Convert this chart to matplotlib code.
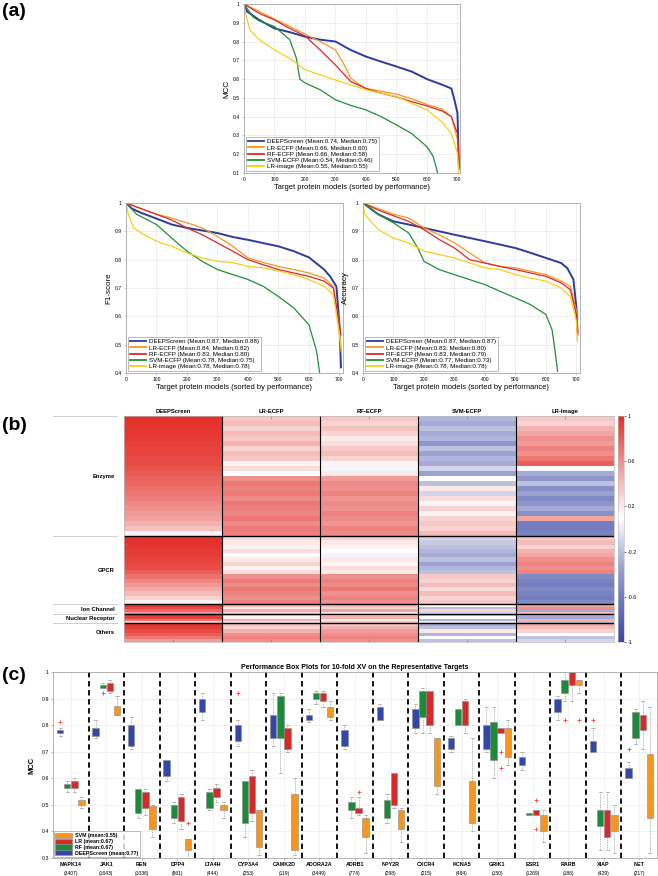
import numpy as np
import matplotlib
matplotlib.use("Agg")
import matplotlib.pyplot as plt
from matplotlib.colors import LinearSegmentedColormap
from matplotlib.patches import Patch
from matplotlib.transforms import blended_transform_factory

plt.rcParams['font.family'] = ['Liberation Sans', 'DejaVu Sans']

W, H = 658, 876

# ---------------- (a) sorted performance curves ----------------
methods = ['DEEPScreen', 'LR-ECFP', 'RF-ECFP', 'SVM-ECFP', 'LR-image']
line_colors = ['#2c3c9c', '#f7961e', '#e0262c', '#1f9134', '#f8cf1a']

mcc_curves = {
    'DEEPScreen': ([0, 10, 50, 100, 150, 200, 250, 300, 350, 400, 450, 500, 550, 600, 650, 680, 690, 700, 705],
                   [1.0, 0.96, 0.915, 0.87, 0.85, 0.826, 0.81, 0.80, 0.755, 0.72, 0.693, 0.667, 0.64, 0.60, 0.57, 0.55, 0.49, 0.42, 0.13]),
    'LR-ECFP': ([0, 50, 100, 150, 200, 250, 300, 326, 350, 370, 400, 450, 500, 550, 600, 650, 680, 700, 705],
                [1.0, 0.96, 0.92, 0.88, 0.84, 0.80, 0.755, 0.685, 0.605, 0.58, 0.55, 0.535, 0.52, 0.495, 0.465, 0.44, 0.40, 0.28, 0.12]),
    'RF-ECFP': ([0, 50, 100, 150, 200, 250, 300, 350, 400, 450, 500, 550, 600, 650, 680, 700, 705],
                [1.0, 0.95, 0.915, 0.87, 0.83, 0.755, 0.675, 0.587, 0.55, 0.525, 0.505, 0.48, 0.457, 0.43, 0.40, 0.31, 0.12]),
    'SVM-ECFP': ([0, 30, 50, 100, 150, 172, 183, 200, 250, 300, 350, 400, 450, 500, 550, 600, 620, 630, 635],
                 [1.0, 0.93, 0.91, 0.88, 0.81, 0.71, 0.60, 0.58, 0.543, 0.49, 0.46, 0.436, 0.40, 0.356, 0.31, 0.24, 0.19, 0.13, 0.10]),
    'LR-image': ([0, 5, 20, 50, 100, 150, 200, 300, 400, 500, 600, 650, 680, 700, 705],
                 [1.0, 0.95, 0.86, 0.81, 0.755, 0.71, 0.65, 0.595, 0.543, 0.507, 0.436, 0.37, 0.31, 0.205, 0.10]),
}
f1_curves = {
    'DEEPScreen': ([0, 20, 50, 100, 150, 200, 300, 350, 400, 500, 550, 600, 650, 670, 690, 700, 705],
                   [1.0, 0.98, 0.965, 0.945, 0.924, 0.912, 0.894, 0.88, 0.87, 0.847, 0.83, 0.808, 0.765, 0.74, 0.705, 0.57, 0.42]),
    'LR-ECFP': ([0, 50, 100, 150, 200, 250, 300, 350, 400, 450, 500, 550, 600, 650, 680, 700, 705],
                [1.0, 0.98, 0.96, 0.947, 0.93, 0.912, 0.882, 0.847, 0.806, 0.79, 0.776, 0.765, 0.753, 0.735, 0.705, 0.57, 0.477]),
    'RF-ECFP': ([0, 50, 100, 150, 200, 250, 300, 350, 400, 450, 500, 550, 600, 650, 680, 700, 705],
                [1.0, 0.98, 0.96, 0.94, 0.912, 0.888, 0.859, 0.83, 0.80, 0.782, 0.765, 0.753, 0.741, 0.724, 0.70, 0.57, 0.535]),
    'SVM-ECFP': ([0, 35, 100, 150, 200, 250, 300, 400, 450, 500, 550, 600, 625, 635],
                 [1.0, 0.96, 0.924, 0.876, 0.83, 0.794, 0.765, 0.73, 0.706, 0.67, 0.63, 0.57, 0.477, 0.40]),
    'LR-image': ([0, 8, 25, 50, 100, 150, 200, 250, 300, 350, 400, 450, 500, 550, 600, 650, 680, 700, 705],
                 [1.0, 0.96, 0.912, 0.894, 0.865, 0.847, 0.824, 0.806, 0.794, 0.79, 0.776, 0.771, 0.76, 0.747, 0.73, 0.706, 0.676, 0.535, 0.488]),
}
acc_curves = {
    'DEEPScreen': ([0, 50, 100, 150, 200, 300, 400, 450, 500, 550, 600, 650, 670, 690, 700, 703],
                   [1.0, 0.96, 0.935, 0.924, 0.912, 0.888, 0.865, 0.853, 0.841, 0.824, 0.806, 0.788, 0.77, 0.73, 0.63, 0.547]),
    'LR-ECFP': ([0, 50, 100, 150, 200, 250, 300, 350, 400, 450, 500, 550, 600, 650, 680, 700, 703],
                [1.0, 0.98, 0.96, 0.947, 0.912, 0.888, 0.859, 0.824, 0.788, 0.776, 0.771, 0.759, 0.747, 0.724, 0.706, 0.62, 0.547]),
    'RF-ECFP': ([0, 50, 100, 150, 200, 250, 300, 350, 400, 450, 500, 550, 600, 650, 680, 700, 705],
                [1.0, 0.975, 0.955, 0.935, 0.906, 0.871, 0.841, 0.80, 0.788, 0.776, 0.765, 0.753, 0.741, 0.718, 0.694, 0.606, 0.535]),
    'SVM-ECFP': ([0, 50, 100, 150, 180, 200, 250, 300, 400, 450, 500, 550, 600, 620, 630, 638],
                 [1.0, 0.96, 0.93, 0.894, 0.841, 0.794, 0.765, 0.747, 0.712, 0.688, 0.665, 0.641, 0.606, 0.553, 0.476, 0.406]),
    'LR-image': ([0, 5, 50, 100, 150, 200, 250, 300, 400, 450, 500, 550, 600, 650, 680, 700, 703],
                 [1.0, 0.96, 0.906, 0.876, 0.859, 0.83, 0.818, 0.806, 0.771, 0.765, 0.747, 0.735, 0.724, 0.70, 0.67, 0.582, 0.512]),
}
mcc_mean = [0.74, 0.66, 0.66, 0.54, 0.55]
mcc_median = [0.75, 0.60, 0.58, 0.46, 0.55]
f1_mean = [0.87, 0.84, 0.83, 0.78, 0.78]
f1_median = [0.88, 0.82, 0.80, 0.75, 0.78]
acc_mean = [0.87, 0.83, 0.83, 0.77, 0.78]
acc_median = [0.87, 0.80, 0.79, 0.73, 0.78]

# ---------------- (b) heatmap bands per protein family ----------------
hm_columns = ['DEEPScreen', 'LR-ECFP', 'RF-ECFP', 'SVM-ECFP', 'LR-Image']
groups = ['Enzyme', 'GPCR', 'Ion Channel', 'Nuclear Receptor', 'Others']
group_rows = [374, 212, 31, 28, 59]

enzyme_vals = [
    [0.98, 0.97, 0.96, 0.95, 0.94, 0.92, 0.91, 0.9, 0.88, 0.87, 0.84, 0.81, 0.78, 0.76, 0.73, 0.7, 0.67, 0.63, 0.6, 0.56, 0.52, 0.46, 0.38, 0.15],
    [0.35, 0.4, 0.3, 0.42, 0.35, 0.45, 0.3, 0.4, 0.35, 0.15, 0.25, 0.1, 0.6, 0.7, 0.65, 0.68, 0.62, 0.7, 0.66, 0.64, 0.7, 0.62, 0.68, 0.66],
    [0.35, 0.3, 0.38, 0.3, 0.2, 0.25, 0.35, 0.4, 0.3, 0.15, 0.05, 0.2, 0.55, 0.62, 0.6, 0.65, 0.58, 0.62, 0.6, 0.65, 0.62, 0.58, 0.65, 0.62],
    [-0.25, -0.3, -0.2, -0.3, -0.25, -0.4, -0.2, -0.35, -0.25, -0.3, -0.1, -0.35, 0.1, -0.2, 0.2, -0.1, 0.25, 0.05, 0.3, 0.15, 0.3, 0.35, 0.3, 0.4],
    [0.35, 0.3, 0.45, 0.5, 0.6, 0.55, 0.65, 0.6, 0.7, 0.8, 0.1, -0.3, -0.4, -0.2, -0.45, -0.35, -0.5, -0.4, -0.3, -0.45, 0.5, -0.6, -0.6, -0.55],
]
gpcr_vals = [
    [0.98, 0.97, 0.96, 0.94, 0.93, 0.91, 0.89, 0.87, 0.8, 0.72, 0.64, 0.56, 0.48, 0.4, 0.3, 0.15],
    [0.25, 0.2, 0.15, 0.25, 0.1, 0.2, 0.3, 0.15, 0.25, 0.6, 0.68, 0.62, 0.7, 0.65, 0.6, 0.66],
    [0.3, 0.2, 0.15, 0.1, 0.05, 0.2, 0.15, 0.25, 0.2, 0.6, 0.65, 0.62, 0.7, 0.6, 0.65, 0.6],
    [-0.1, -0.15, -0.2, -0.25, -0.3, -0.2, -0.35, -0.25, -0.2, 0.35, 0.3, 0.4, 0.25, 0.4, 0.3, 0.35],
    [0.35, 0.4, 0.3, 0.45, 0.5, 0.6, 0.65, 0.6, 0.65, -0.5, -0.55, -0.6, -0.5, -0.55, -0.6, -0.5],
]
ion_vals = [
    [0.95, 0.9, 0.75, 0.55],
    [0.4, 0.2, 0.45, 0.3],
    [0.4, 0.3, 0.5, 0.2],
    [0.1, -0.2, 0.3, -0.1],
    [0.5, 0.6, -0.3, 0.4],
]
nr_vals = [
    [0.97, 0.92, 0.7, 0.3],
    [0.3, 0.15, 0.45, 0.2],
    [0.3, 0.45, 0.2, 0.35],
    [-0.2, 0.1, -0.25, 0.2],
    [0.5, -0.3, 0.45, -0.2],
]
others_vals = [
    [0.97, 0.93, 0.88, 0.8, 0.7, 0.55],
    [0.4, 0.3, 0.45, 0.6, 0.65, 0.6],
    [0.35, 0.45, 0.55, 0.6, 0.65, 0.6],
    [-0.3, -0.2, 0.2, -0.25, 0.1, -0.2],
    [0.5, 0.4, 0.3, 0.1, -0.2, -0.1],
]
group_vals = [enzyme_vals, gpcr_vals, ion_vals, nr_vals, others_vals]

# ---------------- (c) box plot summaries ----------------
targets = ['MAPK14', 'JAK1', 'REN', 'DPP4', 'LTA4H', 'CYP3A4', 'CAMK2D', 'ADORA2A', 'ADRB1',
           'NPY2R', 'CXCR4', 'KCNA5', 'GRIK1', 'ESR1', 'RARB', 'XIAP', 'NET']
target_counts = [3407, 1643, 1036, 861, 444, 253, 119, 3449, 774, 298, 215, 484, 150, 1269, 186, 429, 217]

deep_lo = [0.76, 0.75, 0.71, 0.59, 0.82, 0.72, 0.72, 0.81, 0.71, 0.82, 0.77, 0.70, 0.70, 0.63, 0.82, 0.70, 0.60]
deep_q1 = [0.77, 0.76, 0.72, 0.61, 0.85, 0.74, 0.75, 0.82, 0.72, 0.82, 0.79, 0.71, 0.71, 0.65, 0.85, 0.70, 0.60]
deep_q3 = [0.78, 0.79, 0.80, 0.67, 0.90, 0.80, 0.84, 0.84, 0.78, 0.87, 0.86, 0.75, 0.80, 0.68, 0.90, 0.74, 0.64]
deep_hi = [0.79, 0.82, 0.83, 0.67, 0.92, 0.82, 0.92, 0.86, 0.80, 0.88, 0.88, 0.76, 0.87, 0.70, 0.91, 0.79, 0.66]
deep_out = {0: [0.81], 5: [0.92], 15: [0.82], 16: [0.71]}

rf_lo = [0.55, 0.94, 0.45, 0.43, 0.48, 0.38, 0.62, 0.88, 0.45, 0.43, 0.77, 0.80, 0.60, 0.46, 0.89, 0.33, 0.73]
rf_q1 = [0.563, 0.94, 0.47, 0.45, 0.49, 0.43, 0.75, 0.90, 0.48, 0.45, 0.83, 0.80, 0.67, 0.46, 0.92, 0.42, 0.75]
rf_q3 = [0.58, 0.95, 0.56, 0.50, 0.55, 0.59, 0.91, 0.92, 0.51, 0.52, 0.93, 0.86, 0.81, 0.47, 0.97, 0.48, 0.85]
rf_hi = [0.59, 0.96, 0.56, 0.51, 0.56, 0.59, 0.92, 0.93, 0.53, 0.54, 0.94, 0.86, 0.87, 0.47, 1.0, 0.55, 0.86]
rf_out = {1: [0.92], 14: [0.82]}

lr_lo = [0.55, 0.92, 0.46, 0.41, 0.51, 0.44, 0.70, 0.87, 0.46, 0.49, 0.77, 0.77, 0.77, 0.46, 0.89, 0.33, 0.71]
lr_q1 = [0.563, 0.93, 0.49, 0.44, 0.53, 0.47, 0.71, 0.89, 0.47, 0.50, 0.80, 0.80, 0.77, 0.46, 0.95, 0.38, 0.78]
lr_q3 = [0.59, 0.96, 0.55, 0.53, 0.5625, 0.61, 0.79, 0.92, 0.49, 0.62, 0.93, 0.89, 0.79, 0.48, 1.0, 0.48, 0.84]
lr_hi = [0.60, 0.97, 0.56, 0.54, 0.58, 0.63, 0.80, 0.93, 0.53, 0.62, 0.93, 0.90, 0.79, 0.48, 1.0, 0.55, 0.89]
lr_out = {8: [0.55], 12: [0.70, 0.64], 13: [0.52, 0.41]}

svm_lo = [0.49, 0.84, 0.38, 0.30, 0.45, 0.31, 0.31, 0.82, 0.32, 0.36, 0.54, 0.40, 0.65, 0.36, 0.92, 0.32, 0.32]
svm_q1 = [0.50, 0.84, 0.41, 0.33, 0.48, 0.34, 0.33, 0.83, 0.38, 0.41, 0.57, 0.43, 0.68, 0.40, 0.95, 0.40, 0.45]
svm_q3 = [0.519, 0.871, 0.4975, 0.37, 0.50, 0.48, 0.54, 0.869, 0.45, 0.48, 0.75, 0.59, 0.79, 0.46, 0.97, 0.46, 0.69]
svm_hi = [0.53, 0.91, 0.50, 0.37, 0.51, 0.48, 0.60, 0.89, 0.46, 0.49, 0.75, 0.75, 0.82, 0.48, 0.97, 0.50, 0.87]
svm_out = {3: [0.43], 14: [0.82]}

box_names = ['DEEPScreen', 'RF', 'LR', 'SVM']
box_means = [0.77, 0.67, 0.67, 0.55]
box_colors = ['#3446a8', '#1b8a3a', '#d52a2a', '#f7961e']
box_sets = [(deep_lo, deep_q1, deep_q3, deep_hi, deep_out),
            (rf_lo, rf_q1, rf_q3, rf_hi, rf_out),
            (lr_lo, lr_q1, lr_q3, lr_hi, lr_out),
            (svm_lo, svm_q1, svm_q3, svm_hi, svm_out)]


def px_axes(fig, l, t, r, b):
    return fig.add_axes([l / W, 1 - b / H, (r - l) / W, (b - t) / H])


def style_axes(ax):
    for s in ax.spines.values():
        s.set_color('#a8a8a8')
        s.set_linewidth(0.6)
    ax.tick_params(labelsize=3.6, length=1.5, width=0.4, color='#a8a8a8', pad=1.5)
    ax.grid(True, color='#e4e4e4', lw=0.4)
    ax.set_axisbelow(True)


def curve_panel(ax, curves, means, medians, ylo, ylabel):
    for i, name in enumerate(methods):
        x, y = curves[name]
        lab = f'{name} (Mean:{means[i]:.2f}, Median:{medians[i]:.2f})'
        ax.plot(x, y, color=line_colors[i], lw=1.4 if i == 0 else 0.9, label=lab)
    ax.set_xlim(0, 710)
    ax.set_ylim(ylo, 1)
    ax.set_xticks(range(0, 701, 100))
    yt = np.round(np.arange(ylo, 1.0001, 0.1), 1)
    ax.set_yticks(yt)
    ax.set_yticklabels([f'{v:g}' for v in yt])
    style_axes(ax)
    ax.set_xlabel('Target protein models (sorted by performance)', fontsize=5.4, labelpad=1.5)
    ax.set_ylabel(ylabel, fontsize=5.8, labelpad=2)
    leg = ax.legend(loc='lower left', fontsize=4.5, handlelength=2.6, labelspacing=0.12,
                    borderpad=0.3, borderaxespad=0.35, fancybox=False, handletextpad=0.4)
    leg.get_frame().set_edgecolor('#888888')
    leg.get_frame().set_linewidth(0.5)
    for h in leg.get_lines():
        h.set_linewidth(1.3)


fig = plt.figure(figsize=(W / 100, H / 100), dpi=100)

# (a)
ax1 = px_axes(fig, 244, 4, 460.5, 173)
curve_panel(ax1, mcc_curves, mcc_mean, mcc_median, 0.1, 'MCC')
ax2 = px_axes(fig, 126, 203, 342.5, 373)
curve_panel(ax2, f1_curves, f1_mean, f1_median, 0.4, 'F1-score')
ax3 = px_axes(fig, 363, 203, 579.5, 373)
curve_panel(ax3, acc_curves, acc_mean, acc_median, 0.4, 'Accuracy')

# (b)
cmap = LinearSegmentedColormap.from_list('bwr_m', [(0.0, '#3a49a4'), (0.3, '#8f97cc'), (0.55, '#ffffff'),
                                                    (0.78, '#f09a97'), (1.0, '#e52c26')])
axh = px_axes(fig, 124, 416, 614, 642)
row_start = np.concatenate([[0], np.cumsum(group_rows)])
for g, vals in enumerate(group_vals):
    arr = np.array(vals).T
    nb = arr.shape[0]
    yedges = np.linspace(row_start[g], row_start[g + 1], nb + 1)
    mesh = axh.pcolormesh(np.arange(6), yedges, arr, cmap=cmap, vmin=-1, vmax=1, shading='flat')
axh.set_xlim(0, 5)
axh.set_ylim(row_start[-1], 0)
for xc in range(1, 5):
    axh.axvline(xc, color='black', lw=0.8)
for yb in row_start[1:-1]:
    axh.axhline(yb, color='black', lw=1.0)
axh.set_xticks(np.arange(5) + 0.5)
axh.set_xticklabels([])
axh.tick_params(axis='x', top=True, bottom=True, direction='in', length=2.5, width=0.4, color='#777777')
axh.set_yticks(np.arange(100, 700, 100))
axh.set_yticklabels([])
axh.tick_params(axis='y', direction='in', length=1.5, width=0.4, color='#999999', right=True)
for s in axh.spines.values():
    s.set_color('#bbbbbb')
    s.set_linewidth(0.5)
for i, c in enumerate(hm_columns):
    axh.text(i + 0.5, -5, c, ha='center', va='bottom', fontsize=4.2, fontweight='bold')
trans = blended_transform_factory(fig.transFigure, axh.transData)
for yb in row_start[:-1]:
    fig.add_artist(plt.Line2D([53 / W, 117 / W], [yb, yb], transform=trans, color='#c8c8c8', lw=0.6))
for g, name in enumerate(groups):
    yc = (row_start[g] + row_start[g + 1]) / 2
    fig.text(115 / W, 0, name, transform=trans, ha='right', va='center', fontsize=4.2, fontweight='bold')
    fig.texts[-1].set_y(yc)

cax = px_axes(fig, 618, 416, 624, 642)
cb = fig.colorbar(mesh, cax=cax, ticks=[-1, -0.6, -0.2, 0.2, 0.6, 1])
cb.ax.set_yticklabels(['-1', '-0.6', '-0.2', '0.2', '0.6', '1'])
cb.ax.tick_params(labelsize=3.8, length=1.5, width=0.4, pad=1)
cb.outline.set_edgecolor('#bbbbbb')
cb.outline.set_linewidth(0.4)

# (c)
axc = px_axes(fig, 53, 672, 657, 858)
pos = np.arange(1, len(targets) + 1)
offsets = [-0.3, -0.1, 0.1, 0.3]
for k, (lo, q1, q3, hi, out) in enumerate(box_sets):
    stats = []
    for i in range(len(targets)):
        stats.append(dict(med=q1[i], q1=q1[i], q3=q3[i], whislo=lo[i], whishi=hi[i],
                          fliers=out.get(i, [])))
    axc.bxp(stats, positions=pos + offsets[k], widths=0.18, patch_artist=True, manage_ticks=False,
            boxprops=dict(facecolor=box_colors[k], edgecolor='#8a8a8a', linewidth=0.4),
            whiskerprops=dict(color='#9a9a9a', linestyle=(0, (2, 1.5)), linewidth=0.5),
            capprops=dict(color='#9a9a9a', linewidth=0.5),
            medianprops=dict(linewidth=0),
            flierprops=dict(marker='+', markeredgecolor='#ff3b3b', markersize=3, markeredgewidth=0.6))
for xs in pos[:-1] + 0.5:
    axc.axvline(xs, color='black', lw=1.3, linestyle=(0, (3, 2)))
axc.set_xlim(0.5, len(targets) + 0.5)
axc.set_ylim(0.3, 1.0)
axc.set_xticks(pos)
axc.set_xticklabels([])
yt = np.round(np.arange(0.3, 1.0001, 0.1), 1)
axc.set_yticks(yt)
axc.set_yticklabels([f'{v:g}' for v in yt])
for s in axc.spines.values():
    s.set_color('#a8a8a8')
    s.set_linewidth(0.6)
axc.tick_params(labelsize=3.8, length=1.5, width=0.4, color='#888888', pad=1.5, right=True)
axc.grid(True, color='#e8e8e8', lw=0.4)
axc.set_axisbelow(True)
axc.set_ylabel('MCC', fontsize=5.5, fontweight='bold', labelpad=4)
axc.set_title('Performance Box Plots for 10-fold XV on the Representative Targets',
              fontsize=5, fontweight='bold', pad=2.5)
tx = blended_transform_factory(axc.transData, fig.transFigure)
for i, (t, n) in enumerate(zip(targets, target_counts)):
    axc.text(pos[i], 1 - 864 / H, t, transform=tx, ha='center', va='center', fontsize=3.9, fontweight='bold')
    axc.text(pos[i], 1 - 873 / H, f'({n})', transform=tx, ha='center', va='center', fontsize=3.6)
handles = [Patch(facecolor=box_colors[k], edgecolor='#8a8a8a', linewidth=0.4,
                 label=f'{box_names[k]} (mean:{box_means[k]:.2f})') for k in [3, 2, 1, 0]]
lg = axc.legend(handles=handles, loc='lower left', fontsize=3.8, prop=dict(weight='bold', size=3.8),
                handlelength=3.2, handleheight=1.1, labelspacing=0.1, borderpad=0.3, borderaxespad=0.15,
                fancybox=False, handletextpad=0.5)
lg.get_frame().set_edgecolor('#888888')
lg.get_frame().set_linewidth(0.5)

# panel letters
fig.text(2 / W, 1 - 12 / H, '(a)', fontsize=14, fontweight='bold', va='center')
fig.text(2 / W, 1 - 426 / H, '(b)', fontsize=14, fontweight='bold', va='center')
fig.text(2 / W, 1 - 676 / H, '(c)', fontsize=14, fontweight='bold', va='center')

fig.savefig('out.png', dpi=100)
